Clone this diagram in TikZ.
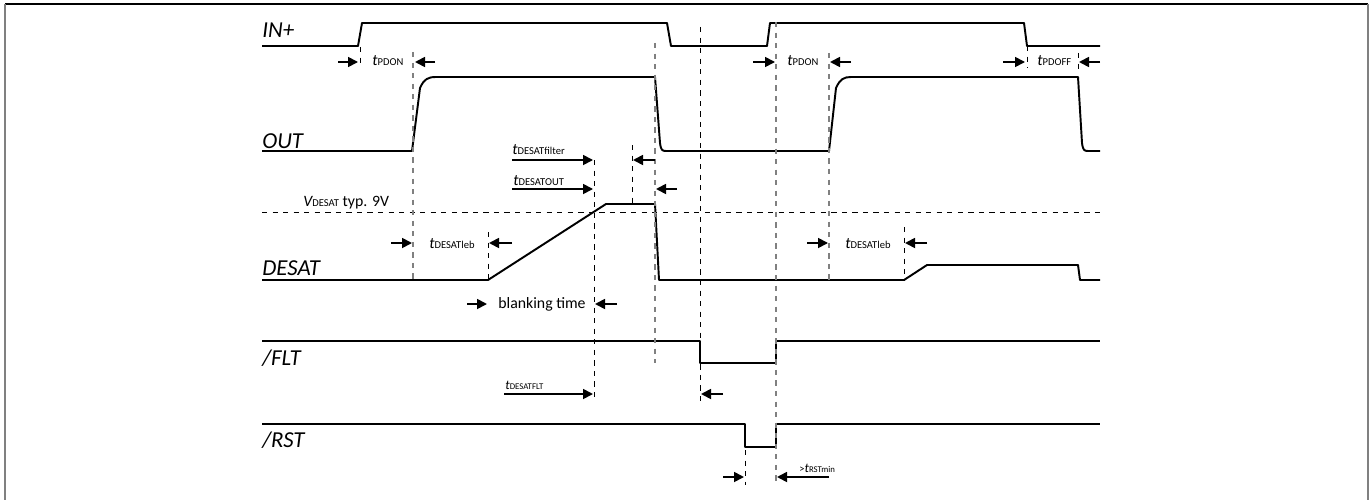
\documentclass[tikz,border=0pt]{standalone}
\usepackage{fontspec}
\setmainfont{Carlito}
\usetikzlibrary{arrows.meta,positioning}
\newcommand{\tlab}[1]{{\fontsize{9}{9}\selectfont\itshape t}{\fontsize{6}{6}\selectfont #1}}
\newcommand{\tsmall}[1]{{\fontsize{7.5}{7.5}\selectfont\itshape t}{\fontsize{5}{5}\selectfont #1}}

\begin{document}
\begin{tikzpicture}[x=0.02cm, y=-0.02cm,
sig/.style={line width=1.1pt, line join=round},
guide/.style={dashed, line width=0.5pt},
guidegray/.style={dashed, line width=0.8pt, gray},
dimarrow/.style={-{Triangle[length=2mm,width=2mm]}, line width=1pt},
signame/.style={anchor=base west, inner sep=0pt, font=\fontsize{13}{13}\selectfont\itshape},
timelab/.style={anchor=base west, inner sep=0pt, font=\fontsize{9}{9}\selectfont},
]
\useasboundingbox (0,0) rectangle (1371,500);

% frame
\draw[line width=1.2pt] (5,4) -- (1368,4);
\draw[line width=1.5pt, gray] (5,4) -- (5,500);
\draw[line width=1.5pt, gray] (1368,4) -- (1368,500);

% signal names
\node[signame] (in) at (262,38) {IN+};
\node[signame] (out) at (262,148) {OUT};
\node[signame] (desat) at (262,275) {DESAT};
\node[signame] (flt) at (262,365) {/FLT};
\node[signame] (rst) at (262,447) {/RST};

% waveforms
\draw[sig] (262,46) -- (358,46) -- (362,23) -- (667,23) -- (671,46) -- (767,46)
  -- (770,23) -- (1024,23) -- (1027,46) -- (1100,46);
\draw[sig] (262,151) -- (412,151) -- (420,88) .. controls (424,79) and (428,77) .. (436,77)
  -- (655,77) -- (660,143) .. controls (661,150) and (662,151) .. (666,151)
  -- (829,151) -- (836,88) .. controls (840,79) and (844,77) .. (851,77)
  -- (1078,77) -- (1082,143) .. controls (1083,150) and (1084,151) .. (1088,151) -- (1100,151);
\draw[sig] (262,280) -- (488,280) -- (606,204) -- (655,204) -- (659,280) -- (904,280)
  -- (927,265) -- (1078,265) -- (1080,280) -- (1100,280);
\draw[sig] (262,341) -- (700,341) -- (700,363) -- (776,363) -- (776,341) -- (1100,341);
\draw[sig] (262,424) -- (745,424) -- (745,447) -- (776,447) -- (776,424) -- (1100,424);

% threshold
\draw[guide] (262,212) -- (1100,212);
\node[timelab] (vdesat) at (303,206) {{\itshape V}{\fontsize{6}{6}\selectfont DESAT} typ. 9V};

% guide lines
\draw[guide] (360,47) -- (360,68);
\draw[guidegray] (413,52) -- (413,280);
\draw[guide] (488,232) -- (488,280);
\draw[guide] (594,160) -- (594,398);
\draw[guide] (632,145) -- (632,203);
\draw[guidegray] (655,43) -- (655,363);
\draw[guide] (700,27) -- (700,405);
\draw[guide] (745,450) -- (745,485);
\draw[guidegray] (776,22) -- (776,485);
\draw[guidegray] (829,53) -- (829,280);
\draw[guide] (904,227) -- (904,280);
\draw[guide] (1027,46) -- (1027,68);
\draw[guide] (1078,53) -- (1078,73);

% timing labels
\node[timelab] (pdon1) at (372,66) {\tlab{PDON}};
\draw[dimarrow] (338,62) -- (358,62);
\draw[dimarrow] (435,62) -- (415,62);

\node[timelab] (pdon2) at (787,66) {\tlab{PDON}};
\draw[dimarrow] (753,62) -- (775,62);
\draw[dimarrow] (851,62) -- (830,62);

\node[timelab] (pdoff) at (1037,66) {\tlab{PDOFF}};
\draw[dimarrow] (1003,62) -- (1025,62);
\draw[dimarrow] (1100,62) -- (1079,62);

\node[timelab] (filter) at (512,154) {\tlab{DESATfilter}};
\draw[dimarrow] (512,160) -- (593,160);
\draw[dimarrow] (655,160) -- (633,160);

\node[timelab] (dsout) at (513,185) {\tlab{DESATOUT}};
\draw[dimarrow] (512,189) -- (593,189);
\draw[dimarrow] (677,189) -- (656,189);

\node[timelab] (leb1) at (429,248) {\tlab{DESATleb}};
\draw[dimarrow] (391,243) -- (412,243);
\draw[dimarrow] (512,243) -- (489,243);

\node[timelab] (leb2) at (845,248) {\tlab{DESATleb}};
\draw[dimarrow] (807,243) -- (828,243);
\draw[dimarrow] (927,243) -- (905,243);

\node[timelab] (blank) at (498,308) {blanking time};
\draw[dimarrow] (467,304) -- (487,304);
\draw[dimarrow] (617,304) -- (595,304);

\node[timelab] (dsflt) at (505,389) {\tsmall{DESATFLT}};
\draw[dimarrow] (504,394) -- (593,394);
\draw[dimarrow] (723,394) -- (701,394);

\node[timelab] (rstmin) at (799,472) {{\fontsize{6}{6}\selectfont >}\tsmall{RSTmin}};
\draw[dimarrow] (723,477) -- (744,477);
\draw[dimarrow] (829,477) -- (777,477);
\end{tikzpicture}
\end{document}
